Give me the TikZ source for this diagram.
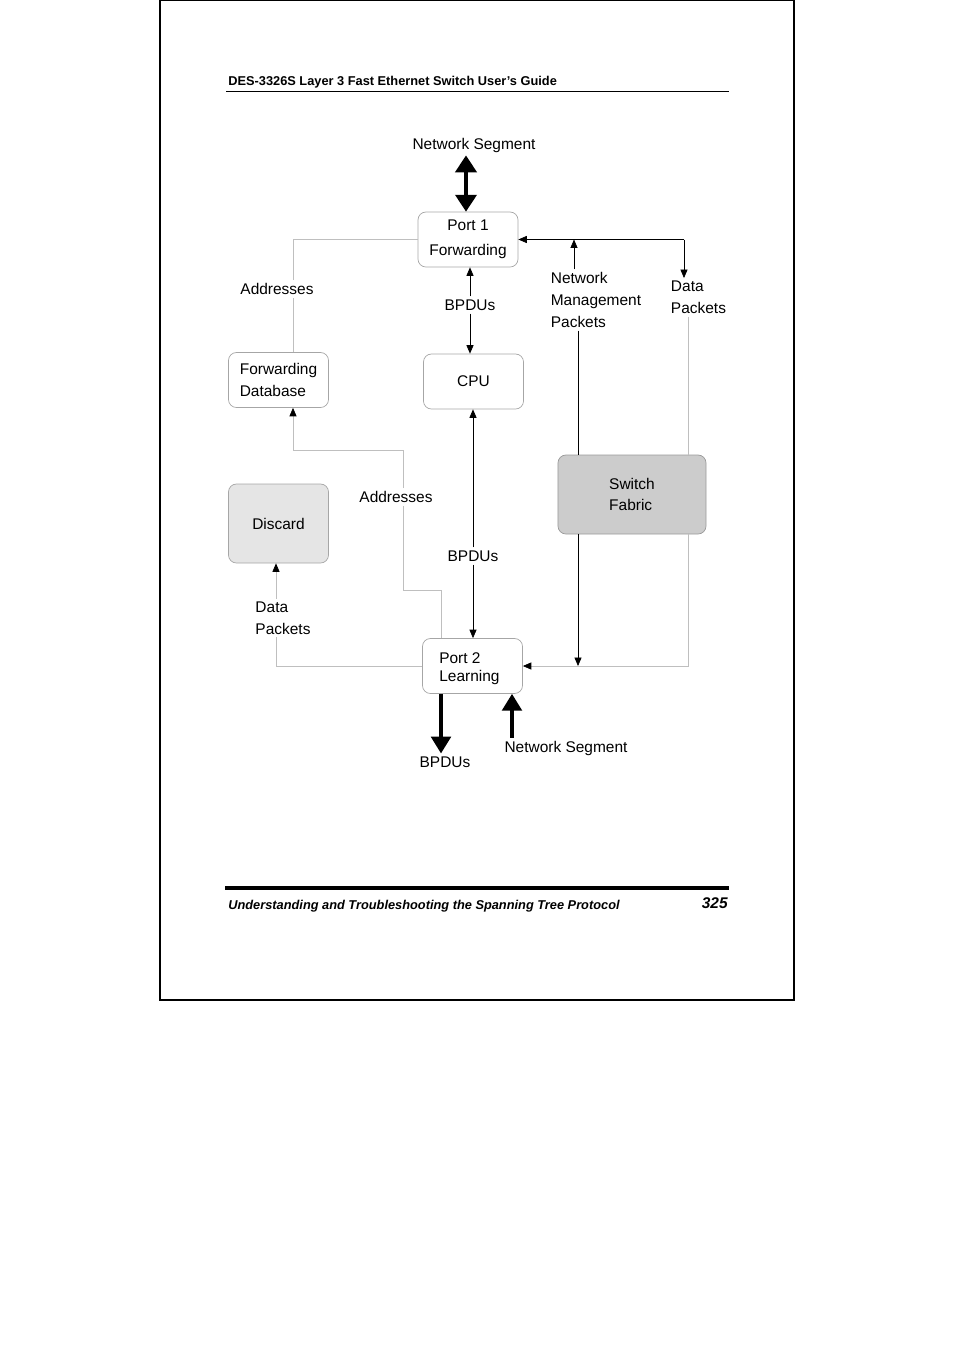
\documentclass[tikz,border=0pt]{standalone}
\usepackage{fontspec}
\setmainfont{Liberation Sans}
\usepackage{tikz}
\usetikzlibrary{arrows.meta}
\usetikzlibrary{positioning}
\usetikzlibrary{calc}
\newcommand{\diagfont}{\fontsize{11}{15.5}\selectfont}
\tikzset{every picture/.style={line width=0.5pt},
  box/.style={draw=black!35, rounded corners=0.2cm, minimum width=2.5cm, minimum height=1.375cm, align=center, font=\diagfont},
  lbl/.style={inner sep=2pt, align=left, font=\diagfont},
  wire/.style={draw=black!25},
  arr/.style={-{Triangle[length=6pt,width=5pt]}},
  arrg/.style={-{Triangle[length=6pt,width=5pt,color=black]}},
  bigarr/.style={line width=2.5pt,-{Triangle[length=12pt,width=14pt]}},
  bigdbl/.style={line width=2.5pt,{Triangle[length=12pt,width=15pt]}-{Triangle[length=12pt,width=15pt]}}}

\begin{document}
\begin{tikzpicture}[x=0.025cm, y=-0.025cm]
\useasboundingbox (0,0) rectangle (954,1351);
% page frame, header and footer
\draw[line width=0.8pt] (160,0.5) rectangle (794,1000);
\node[anchor=base west, inner sep=0, font=\bfseries\fontsize{9.1}{10}\selectfont] (head) at (228,85) {DES-3326S Layer 3 Fast Ethernet Switch User’s Guide};
\draw (226,91.5) -- (729,91.5);
\draw[line width=2.2pt] (225,888) -- (729,888);
\node[anchor=base west, inner sep=0, font=\bfseries\itshape\fontsize{9.1}{10}\selectfont] (foot) at (228,909) {Understanding and Troubleshooting the Spanning Tree Protocol};
\node[anchor=base east, inner sep=0, font=\bfseries\itshape\fontsize{11}{13}\selectfont] (pnum) at (728,908) {325};

% boxes
\node[box] (p1) at (468,239.5) {Port 1\\[2pt]Forwarding};
\node[box] (cpu) at (473.5,381.5) {CPU};
\node[box, align=left] (fdb) at (278.5,380) {Forwarding\\Database};
\node[box, fill=black!10, minimum height=1.975cm] (discard) at (278.5,523.5) {Discard};
\node[box, fill=black!20, draw=black!40, minimum width=3.7cm, minimum height=1.975cm, align=left] (fabric) at (632,494.5) {Switch\\Fabric};
\node[box, align=left] (p2) at (472.5,666) {};
\node[lbl, anchor=north west] (p2txt) at ($(p2.north west)+(14,11)$) {Port 2\\[-2.5pt]Learning};

% labels
\node[lbl] (seg1) at (474,145) {Network Segment};
\node[lbl] (addr1) at (277,289) {Addresses};
\node[lbl] (bpdu1) at (470,305) {BPDUs};
\node[lbl] (nmp) at (596,300) {Network\\Management\\Packets};
\node[lbl] (dp1) at (698.5,297.5) {Data\\Packets};
\node[lbl] (addr2) at (396,497) {Addresses};
\node[lbl] (bpdu2) at (473,556) {BPDUs};
\node[lbl] (dp2) at (283,618) {Data\\Packets};
\node[lbl] (bpdu3) at (445,762) {BPDUs};
\node[lbl] (seg2) at (566,748) {Network Segment};

% line positions
\coordinate (xa) at (293,0);
\coordinate (xb) at (574,0);
\coordinate (xc) at (578,0);
\coordinate (xd) at (684,0);
\coordinate (xe) at (688,0);
\coordinate (xf) at (276,0);
\coordinate (k1) at (441,590);
\coordinate (k2) at (403,450);

% port 1
\draw[bigdbl] (seg1.south -| 466,0) -- (p1.north -| 466,0);
\draw[wire] (p1.west) -| (xa |- addr1.north);
\draw[wire] (xa |- addr1.south) -- (xa |- fdb.north);
\draw[arr] (bpdu1.north) -- (bpdu1.north |- p1.south);
\draw[arr] (bpdu1.south) -- (bpdu1.south |- cpu.north);
\draw[arr] (xd |- p1.east) -- (p1.east);
\draw[arr] (xd |- p1.east) -- (xd |- dp1.north);
\draw[arr] (xb |- nmp.north) -- (xb |- p1.east);

% switch fabric
\draw (xc |- nmp.south) -- (xc |- fabric.north);
\draw[wire] (xe |- dp1.south) -- (xe |- fabric.north);
\draw[arr] (xc |- fabric.south) -- (xc |- p2.east);
\draw[wire, arrg] (xe |- fabric.south) |- (p2.east);

% port 2
\draw[arr] (bpdu2.north) -- (bpdu2.north |- cpu.south);
\draw[arr] (bpdu2.south) -- (bpdu2.south |- p2.north);
\draw[wire] (k1 |- p2.north) -- (k1) -| (k2 |- addr2.south);
\draw[wire, arrg] (k2 |- addr2.north) -- (k2) -| (xa |- fdb.south);
\draw[wire] (p2.west) -| (xf |- dp2.south);
\draw[wire, arrg] (xf |- dp2.north) -- (xf |- discard.south);
\draw[bigarr] (p2.south -| 441,0) -- (bpdu3.north -| 441,0);
\draw[bigarr] (seg2.north -| 512,0) -- (p2.south -| 512,0);
\end{tikzpicture}
\end{document}
